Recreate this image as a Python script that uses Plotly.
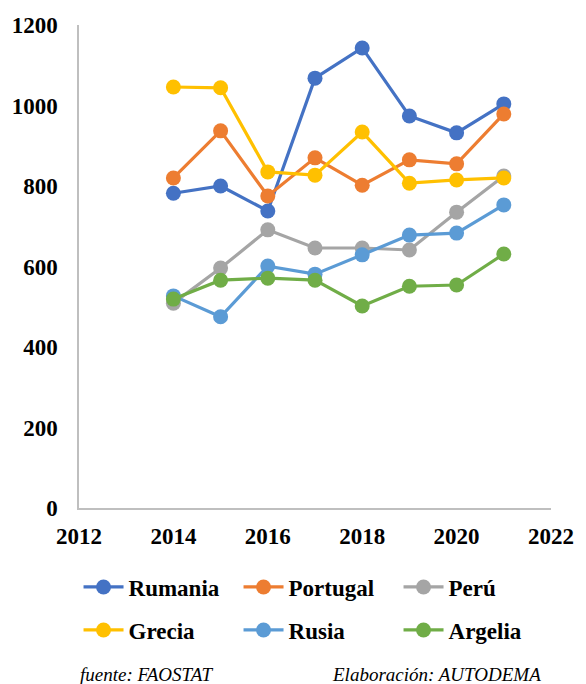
import plotly.graph_objects as go

years = [2014, 2015, 2016, 2017, 2018, 2019, 2020, 2021]
rumania = [782, 800, 738, 1068, 1143, 974, 932, 1004]
portugal = [820, 937, 775, 870, 802, 865, 855, 979]
peru = [509, 596, 691, 646, 646, 641, 735, 825]
grecia = [1046, 1044, 835, 827, 934, 807, 815, 820]
rusia = [527, 475, 601, 581, 629, 678, 683, 753]
argelia = [519, 566, 571, 566, 502, 551, 554, 631]

series = [
    ("Rumania", rumania, "#4472C4", "legend"),
    ("Portugal", portugal, "#ED7D31", "legend"),
    ("Perú", peru, "#A5A5A5", "legend"),
    ("Grecia", grecia, "#FFC000", "legend2"),
    ("Rusia", rusia, "#5B9BD5", "legend2"),
    ("Argelia", argelia, "#70AD47", "legend2"),
]

FF = "Liberation Serif"
W, H = 586, 684
L, R, T, B = 78, 28, 25, 176
pw, ph = W - L - R, H - T - B


def px_x(x):
    return (x - L) / pw


def px_y(y):
    return (H - B - y) / ph


fig = go.Figure()
for name, vals, col, lg in series:
    fig.add_trace(go.Scatter(
        x=years, y=vals, name=name, mode="lines+markers",
        line=dict(color=col, width=3.2),
        marker=dict(color=col, size=15),
        legend=lg,
    ))

legend_common = dict(
    orientation="h", xanchor="left", yanchor="middle",
    entrywidth=105, entrywidthmode="pixels",
    font=dict(family=FF, size=23, color="black", weight="bold"),
    itemwidth=40, bgcolor="rgba(0,0,0,0)",
)

fig.update_layout(
    width=W, height=H,
    margin=dict(l=L, r=R, t=T, b=B),
    paper_bgcolor="white", plot_bgcolor="white",
    font=dict(family=FF, color="black", size=18),
    showlegend=True,
    legend=dict(x=-0.001, y=px_y(587), **legend_common),
    legend2=dict(x=-0.001, y=px_y(630), **legend_common),
    xaxis=dict(
        range=[2012, 2022], dtick=2, tick0=2012,
        showgrid=False, zeroline=False,
        showline=True, linecolor="#BFBFBF", linewidth=1.5,
        ticks="", ticklabelstandoff=7,
        tickfont=dict(family=FF, size=23, color="black", weight="bold"),
    ),
    yaxis=dict(
        range=[0, 1200], dtick=200,
        showgrid=False, zeroline=False,
        showline=True, linecolor="#BFBFBF", linewidth=1.5,
        ticks="", ticklabelstandoff=15,
        tickfont=dict(family=FF, size=23, color="black", weight="bold"),
    ),
)
fig.add_annotation(text="<i>fuente: FAOSTAT</i>", xref="paper", yref="paper",
                   x=px_x(77), y=px_y(674),
                   xanchor="left", yanchor="middle", showarrow=False,
                   font=dict(family=FF, size=19, color="black"))
fig.add_annotation(text="<i>Elaboración: AUTODEMA</i>", xref="paper", yref="paper",
                   x=px_x(550), y=px_y(674),
                   xanchor="right", yanchor="middle", showarrow=False,
                   font=dict(family=FF, size=19, color="black"))

fig.write_html("out.html", config={"displayModeBar": False},
               post_script="document.body.style.margin='0px';")
